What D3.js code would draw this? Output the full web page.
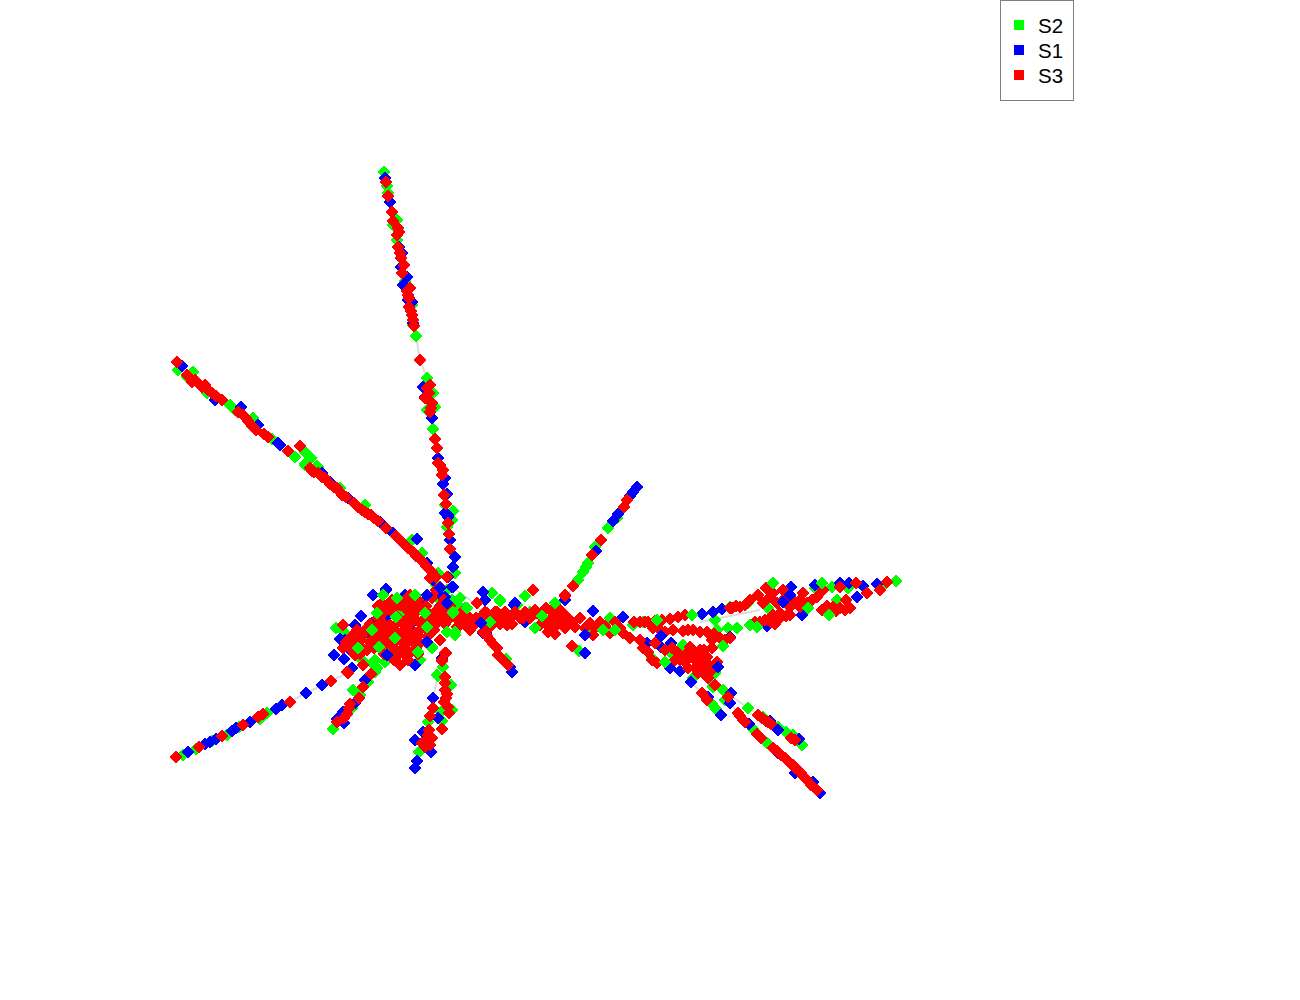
<!DOCTYPE html>
<html><head><meta charset="utf-8">
<script src="https://cdn.jsdelivr.net/npm/d3@7"></script>
<style>html,body{margin:0;padding:0;background:#fff;overflow:hidden}svg{display:block}</style>
</head><body><div id="c"></div>
<script>
const seriesNames = ["S2","S1","S3"];
const seriesColors = ["#00ff00","#0000ff","#ff0000"];
const S2 = [[384,172],[387,186],[388,193],[397,220],[393,225],[397,240],[405,281],[413,325],[416,336],[412,305],
[427,378],[430,385],[433,393],[435,407],[427,410],[433,429],[445,505],[453,511],[452,520],[447,527],
[178,370],[193,372],[187,377],[207,393],[230,405],[235,410],[253,418],[272,439],[295,457],[305,464],[305,452],[311,458],[318,467],
[305,465],[317,466],[365,505],[412,540],[438,573],[422,553],[340,488],
[183,755],[196,749],[212,741],[227,735],[239,727],[260,719],[267,713],
[333,729],[353,690],[368,682],[377,668],[360,695],[352,708],[340,718],
[438,676],[443,667],[451,685],[441,712],[442,721],[452,710],[428,722],[419,752],[432,647],
[712,704],[716,709],[748,708],[763,717],[778,727],[786,732],[793,735],[802,745],[767,743],[753,729],[713,687],[723,690],[725,700],[715,673],[693,678],
[617,518],[608,528],[595,547],[588,563],[583,572],[578,580],[525,596],[579,651],[586,567],
[492,593],[500,600],[525,596],[443,608],[530,612],[587,628],[517,605],[643,622],[610,618],[633,625],
[506,659],[336,628],[344,632],[352,637],[357,630],[372,663],[375,672],[420,660],[465,608],[438,575],[443,597],[455,573],[460,598],[500,601],[437,675],[370,637],[385,647],
[715,620],[730,607],[748,603],[768,608],[837,600],[728,628],[737,628],[717,630],[683,645],[673,655],[652,658],[715,672],[713,686],[723,690],[815,588],[832,587],[848,588],[886,583],[896,581],
[400,613],[410,600],[370,645],[362,660],[375,660],[385,662],[447,590],[440,600],[452,600],[436,585],[458,605]];
const S1 = [[385,178],[390,202],[399,247],[402,253],[401,267],[407,277],[403,285],[412,302],[413,323],[408,300],
[423,387],[425,397],[432,418],[438,458],[445,478],[443,484],[447,494],[448,515],[450,540],[455,557],[453,567],[448,517],[445,513],
[182,366],[215,400],[241,407],[258,425],[280,445],[278,443],[322,473],
[330,482],[348,498],[380,522],[393,533],[407,547],[417,539],[427,563],[386,590],
[188,752],[205,744],[210,742],[216,739],[232,731],[236,728],[250,722],[276,709],[282,705],[306,693],[322,685],
[334,655],[344,659],[352,668],[337,719],[343,712],[344,723],[355,703],[365,680],[362,650],
[433,698],[415,740],[431,752],[417,761],[415,768],[438,718],[423,732],[442,658],
[721,715],[730,703],[731,693],[749,724],[770,721],[778,730],[799,739],[778,753],[795,773],[813,782],[820,793],[708,697],
[637,487],[633,492],[630,496],[618,514],[613,521],[596,551],[565,600],[585,653],
[483,592],[485,600],[515,603],[525,622],[623,617],[452,587],[483,633],
[512,672],[510,667],[486,633],
[373,595],[386,589],[361,616],[355,625],[372,623],[370,634],[340,639],[362,649],[415,665],[385,618],[410,625],[514,605],[422,603],
[702,614],[713,612],[722,609],[791,587],[802,615],[849,583],[863,586],[877,584],[815,585],[840,583],[767,626],[671,643],[670,668],[680,671],[730,637],[647,643],[661,647],
[345,640],[350,650],[360,632],[405,595],[445,597],[438,593],[448,577],[433,580]];
const S3 = [[386,182],[388,196],[392,212],[393,221],[398,228],[397,235],[398,247],[400,253],[401,258],[402,273],[410,288],[407,291],[409,298],[409,307],[412,315],[413,320],[414,326],[420,360],
[427,388],[429,393],[425,398],[432,403],[430,412],[435,439],[437,448],[440,465],[443,470],[442,475],[444,495],[446,504],[448,523],[449,534],[450,549],
[177,362],[187,375],[192,382],[198,383],[205,385],[212,393],[222,400],[243,415],[248,421],[256,430],[264,434],[288,451],[300,446],[312,471],[320,475],
[310,468],[318,473],[325,478],[337,488],[342,495],[354,503],[365,512],[371,515],[386,528],[400,540],[413,552],[418,557],[432,572],
[176,757],[199,747],[222,736],[243,725],[258,717],[263,714],[290,702],[331,681],[348,673],
[347,672],[363,665],[371,674],[363,687],[359,698],[350,704],[347,714],[337,722],
[446,653],[442,661],[445,677],[445,690],[446,698],[448,707],[433,708],[430,716],[442,729],[429,730],[426,740],[425,747],[422,743],[430,745],
[702,693],[707,700],[738,713],[743,720],[758,715],[766,721],[771,724],[757,734],[761,738],[773,748],[785,758],[793,765],[798,770],[807,780],[817,790],[791,738],[728,697],[705,675],
[627,500],[624,507],[601,540],[592,555],[573,586],[565,596],[533,590],[572,646],
[480,618],[490,617],[500,615],[510,618],[493,623],[470,630],[463,623],[457,627],[447,620],[537,613],[543,618],[553,613],[560,610],[550,630],[560,622],[572,622],[580,618],[590,623],[600,622],[593,635],[610,633],[623,633],[640,640],[630,638],[565,595],[523,618],[517,615],[483,615],[507,625],[490,627],[547,625],[540,625],[555,627],
[490,640],[497,648],[498,655],[508,665],[483,632],
[410,595],[382,603],[400,605],[420,607],[432,598],[393,613],[407,610],[430,615],[443,620],[460,625],[467,620],[477,603],[383,623],[403,623],[420,623],[397,633],[410,633],[373,633],[360,640],[350,643],[343,648],[355,655],[343,625],[357,630],[377,643],[367,650],[387,643],[407,643],[420,643],[400,653],[410,653],[440,640],[400,665],[390,655],[375,632],[437,610],[413,617],[390,625],[400,640],[415,633],[427,630],[445,653],[442,660],[447,577],[440,587],[497,612],[507,615],[487,613],
[640,622],[648,622],[670,619],[685,615],[732,608],[740,607],[758,595],[766,588],[763,603],[773,593],[783,590],[777,603],[795,602],[803,593],[823,590],[840,587],[856,583],[867,593],[880,590],[887,582],[822,610],[833,607],[840,608],[850,608],[846,600],[807,603],[817,597],[790,615],[780,613],[773,615],
[653,628],[673,630],[683,631],[693,630],[707,632],[720,638],[730,638],[760,622],[768,620],[775,624],
[643,648],[655,643],[657,663],[680,660],[690,647],[700,650],[712,640],[707,657],[695,660],[688,668],[703,667],[717,662],[708,678],[715,685],[698,673],
[195,380],[202,387],[208,390],[216,396],[238,412],[246,418],[252,426],[268,437],[314,472],[322,477],[330,484],[334,487],[340,492],[346,497],[358,507],[362,510],[368,514],[374,518],[378,521],[396,536],[404,544],[408,548],[416,556],[422,561],[426,566],[436,577],
[399,232],[404,265],[408,295],[411,311],[430,385],[427,395],[431,408],[438,463],
[392,600],[405,600],[418,600],[378,606],[388,606],[396,606],[412,606],[426,606],[440,606],
[384,612],[416,612],[424,612],[436,612],[445,612],[452,612],
[378,618],[398,618],[408,618],[425,618],[434,618],[450,618],[456,618],[470,618],[476,618],
[370,624],[380,624],[396,624],[410,624],[427,624],[436,624],[445,624],[464,624],[474,624],
[365,630],[383,630],[392,630],[404,630],[420,630],[434,630],
[352,636],[362,636],[378,636],[388,636],[400,636],[408,636],[418,636],[428,636],
[346,642],[358,642],[370,642],[382,642],[394,642],[414,642],[426,642],
[350,648],[362,648],[374,648],[394,648],[404,648],[416,648],
[360,654],[384,654],[396,654],[404,654],[418,654],[394,660],[408,660],
[485,612],[495,612],[505,612],[515,612],[525,612],[486,618],[495,618],[505,618],[520,618],[530,618],[475,624],[483,624],[500,624],[512,624],
[535,610],[546,608],[556,606],[562,613],[550,619],[557,618],[566,616],[548,632],[555,634],[565,628],[575,627],[585,628],[595,628],[605,626],[615,622],[620,628],[634,622],[645,622],[655,621],[662,620],[678,617],
[730,608],[736,606],[745,605],[750,600],[770,597],[785,598],[800,600],[790,607],[800,607],[812,600],[827,606],[836,611],[845,610],
[660,630],[665,632],[688,630],[700,632],[714,634],[725,640],[755,622],[765,620],[771,622],[780,618],[786,616],
[665,650],[677,652],[685,655],[692,652],[698,655],[704,650],[712,648],[675,660],[685,662],[690,657],[700,663],[708,664],[695,668],[703,673],[712,670],[672,648],[648,652],[652,660],
[740,716],[745,722],[777,751],[781,755],[789,762],[795,768],[801,773],[803,776],[811,785],[762,718],[768,722],[795,740],
[445,683],[447,694],[444,702],[449,713],[428,735],[432,738],[349,708],[344,718],[487,636],[493,644],[503,660],
[430,578],[436,590],[444,600],[450,606],[462,612],[440,612]];
const S2Top = [[425,613],[427,627],[396,617],[395,638],[377,613],[447,632],[455,635],[453,613],[432,648],[379,647],[415,595],[397,598],[383,595],[455,632],[467,608],[535,628],[603,630],[615,630],[542,616],[555,603],[490,622],[657,620],[692,615],[808,608],[829,615],[773,583],[822,583],[750,625],[757,627],[723,646],[665,662],[453,612],[358,648],[372,630],[418,652]];
const S1Top = [[481,623],[387,655],[427,642],[790,595],[783,602],[857,597],[661,636],[593,611],[585,635],[718,667],[691,682],[427,595],[440,588],[453,587],[447,603]];
const edges = [[[416,336],[420,360],[427,378]],[[348,673],[331,681],[323,685],[306,693],[290,702]],[[452,587],[470,600],[483,612]],[[438,676],[433,698]],[[565,600],[573,586]],[[723,690],[748,708],[770,721]],[[730,703],[738,713]],[[691,682],[702,693]],[[572,646],[579,651],[585,653]],[[760,610],[700,622]]];

const W = 1300, H = 1000;
const x = d3.scaleLinear().domain([0,1300]).range([0,W]);
const y = d3.scaleLinear().domain([0,1000]).range([0,H]);
const svg = d3.select("#c").append("svg").attr("width",W).attr("height",H);
const line = d3.line().x(d=>x(d[0])).y(d=>y(d[1]));
svg.append("g").selectAll("path").data(edges).join("path")
  .attr("d",line).attr("fill","none").attr("stroke","#dcdcdc").attr("stroke-width",2);
const sym = d3.symbol().type(d3.symbolSquare).size(84)();
[[S2,0],[S1,1],[S3,2],[S2Top,0],[S1Top,1]].forEach(([pts,i])=>{
  svg.append("g").attr("shape-rendering","crispEdges").selectAll("path").data(pts).join("path")
    .attr("d",sym).attr("fill",seriesColors[i])
    .attr("transform",d=>`translate(${x(d[0])},${y(d[1])}) rotate(45)`);
});
const lg = svg.append("g");
lg.append("rect").attr("x",1000.5).attr("y",0.5).attr("width",73).attr("height",100)
  .attr("fill","#fff").attr("stroke","#7f7f7f").attr("stroke-width",1);
seriesNames.forEach((n,i)=>{
  lg.append("rect").attr("x",1014).attr("y",20+i*25).attr("width",10).attr("height",10).attr("fill",seriesColors[i]);
  lg.append("text").attr("x",1038).attr("y",33+i*25).attr("font-family","'Liberation Sans',Arial,sans-serif")
    .attr("font-size",20.5).attr("fill","#000").text(n);
});
</script></body></html>
